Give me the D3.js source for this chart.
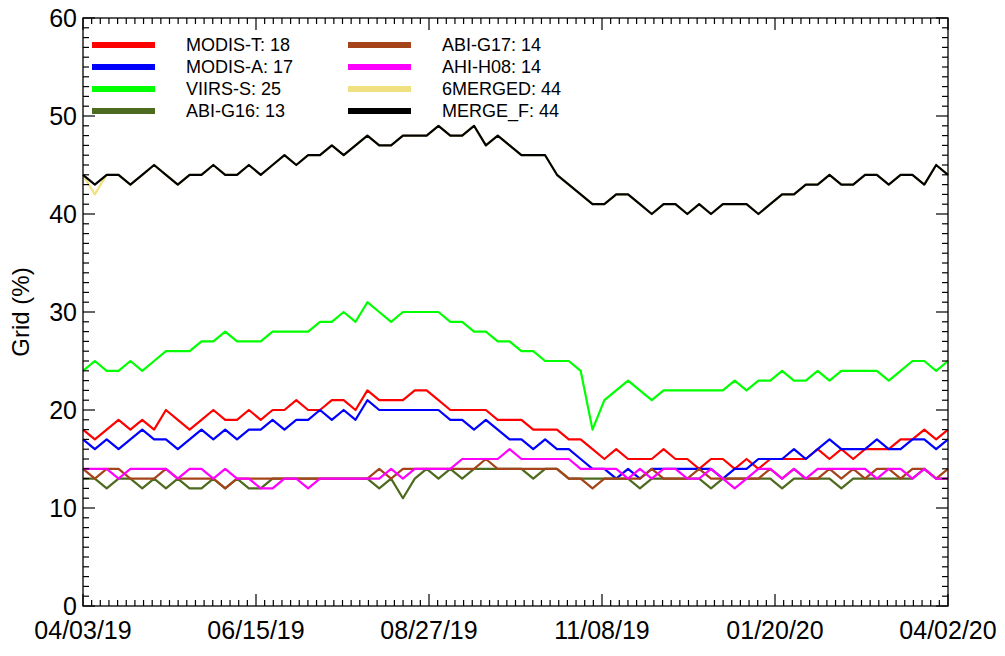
<!DOCTYPE html>
<html><head><meta charset="utf-8">
<script src="https://cdn.jsdelivr.net/npm/d3@7"></script>
<style>body{margin:0;background:#fff}svg{font-family:"Liberation Sans",Arial,sans-serif}</style>
</head><body><svg id="c" width="1005" height="656"></svg>
<script>
const tickLabels=["04/03/19","06/15/19","08/27/19","11/08/19","01/20/20","04/02/20"];
const stepDays=5;
const modisT=[18,17,18,19,18,19,18,20,19,18,19,20,19,19,20,19,20,20,21,20,20,21,21,20,22,21,21,21,22,22,21,20,20,20,20,19,19,19,18,18,18,17,17,16,15,16,15,15,15,16,15,15,14,15,15,14,15,14,15,15,15,15,16,15,16,15,16,16,16,17,17,18,17,18];
const modisA=[17,16,17,16,17,18,17,17,16,17,18,17,18,17,18,18,19,18,19,19,20,19,20,19,21,20,20,20,20,20,20,19,19,18,19,18,17,17,16,17,16,16,15,14,14,13,14,13,14,14,14,14,14,14,13,14,14,15,15,15,16,15,16,17,16,16,16,17,16,16,17,17,16,17];
const viirs=[24,25,24,24,25,24,25,26,26,26,27,27,28,27,27,27,28,28,28,28,29,29,30,29,31,30,29,30,30,30,30,29,29,28,28,27,27,26,26,25,25,25,24,18,21,22,23,22,21,22,22,22,22,22,22,23,22,23,23,24,23,23,24,23,24,24,24,24,23,24,25,25,24,25];
const g16=[13,13,12,13,13,12,13,12,13,12,12,13,12,13,12,12,13,13,13,13,13,13,13,13,13,12,13,11,13,14,13,14,13,14,14,14,14,14,13,14,14,13,13,13,13,13,13,12,13,13,13,13,13,12,13,13,13,13,13,12,13,13,13,13,12,13,13,13,13,13,13,14,13,13];
const g17=[14,13,14,14,13,13,13,14,13,13,13,13,12,13,13,13,13,13,13,13,13,13,13,13,13,14,13,14,14,14,14,14,14,14,15,14,14,14,14,14,14,13,13,12,13,13,13,13,14,13,13,13,14,13,13,13,13,13,14,13,14,13,13,14,13,14,13,14,14,13,14,14,13,14];
const h08=[14,14,14,13,14,14,14,14,13,14,14,13,14,13,13,12,12,13,13,12,13,13,13,13,13,13,14,13,14,14,14,14,15,15,15,15,16,15,15,15,15,15,14,14,14,14,13,14,13,14,14,13,13,14,13,12,13,14,14,13,14,13,14,14,14,14,14,13,14,14,13,14,13,13];
const merge6=[44,42,44,44,43,44,45,44,43,44,44,45,44,44,45,44,45,46,45,46,46,47,46,47,48,47,47,48,48,48,49,48,48,49,47,48,47,46,46,46,44,43,42,41,41,42,42,41,40,41,41,40,41,40,41,41,41,40,41,42,42,43,43,44,43,43,44,44,43,44,44,43,45,44];
const mergeF=[44,43,44,44,43,44,45,44,43,44,44,45,44,44,45,44,45,46,45,46,46,47,46,47,48,47,47,48,48,48,49,48,48,49,47,48,47,46,46,46,44,43,42,41,41,42,42,41,40,41,41,40,41,40,41,41,41,40,41,42,42,43,43,44,43,43,44,44,43,44,44,43,45,44];
const names=["MODIS-T: 18","MODIS-A: 17","VIIRS-S: 25","ABI-G16: 13","ABI-G17: 14","AHI-H08: 14","6MERGED: 44","MERGE_F: 44"];
const colors=["#ff0000","#0000ff","#00ff00","#4d6b1e","#a5441a","#ff00ff","#f0e080","#000000"];
const series=[modisT,modisA,viirs,g16,g17,h08,merge6,mergeF];

const svg=d3.select("#c");
const L=83,R=948,T=18,B=606;
const x=d3.scaleLinear().domain([0,365]).range([L,R]);
const y=d3.scaleLinear().domain([0,60]).range([B,T]);
const line=d3.line().x((d,i)=>x(i*stepDays)).y(d=>y(d));
series.forEach((s,k)=>svg.append("path").datum(s).attr("d",line).attr("fill","none").attr("stroke",colors[k]).attr("stroke-width",2.2).attr("stroke-linejoin","round"));

svg.append("rect").attr("x",L).attr("y",T).attr("width",R-L).attr("height",B-T).attr("fill","none").attr("stroke","#000").attr("stroke-width",1.3);
const g=svg.append("g").attr("stroke","#000").attr("stroke-width",1.2);
for(let d=0;d<=365.01;d+=73/20){const maj=Math.abs(d/73-Math.round(d/73))<1e-6;const len=maj?12:6;
 g.append("line").attr("x1",x(d)).attr("x2",x(d)).attr("y1",B).attr("y2",B-len);
 g.append("line").attr("x1",x(d)).attr("x2",x(d)).attr("y1",T).attr("y2",T+len);}
for(let v=0;v<=60;v++){const len=v%10==0?12:6;
 g.append("line").attr("x1",L).attr("x2",L+len).attr("y1",y(v)).attr("y2",y(v));
 g.append("line").attr("x1",R).attr("x2",R-len).attr("y1",y(v)).attr("y2",y(v));}
tickLabels.forEach((t,i)=>svg.append("text").attr("x",x(i*73)).attr("y",B+33).attr("text-anchor","middle").attr("font-size",25).text(t));
d3.range(0,61,10).forEach(v=>svg.append("text").attr("x",L-6).attr("y",y(v)+9).attr("text-anchor","end").attr("font-size",25).text(v));
svg.append("text").attr("transform","translate(29,312) rotate(-90)").attr("text-anchor","middle").attr("font-size",24).text("Grid (%)");
names.forEach((n,k)=>{const col=Math.floor(k/4),row=k%4;const lx=col?348:92,ty=45+row*22;
 svg.append("line").attr("x1",lx).attr("x2",lx+63).attr("y1",ty).attr("y2",ty).attr("stroke",colors[k]).attr("stroke-width",6);
 svg.append("text").attr("x",lx+94).attr("y",ty+6).attr("font-size",18).text(n);});
</script></body></html>
